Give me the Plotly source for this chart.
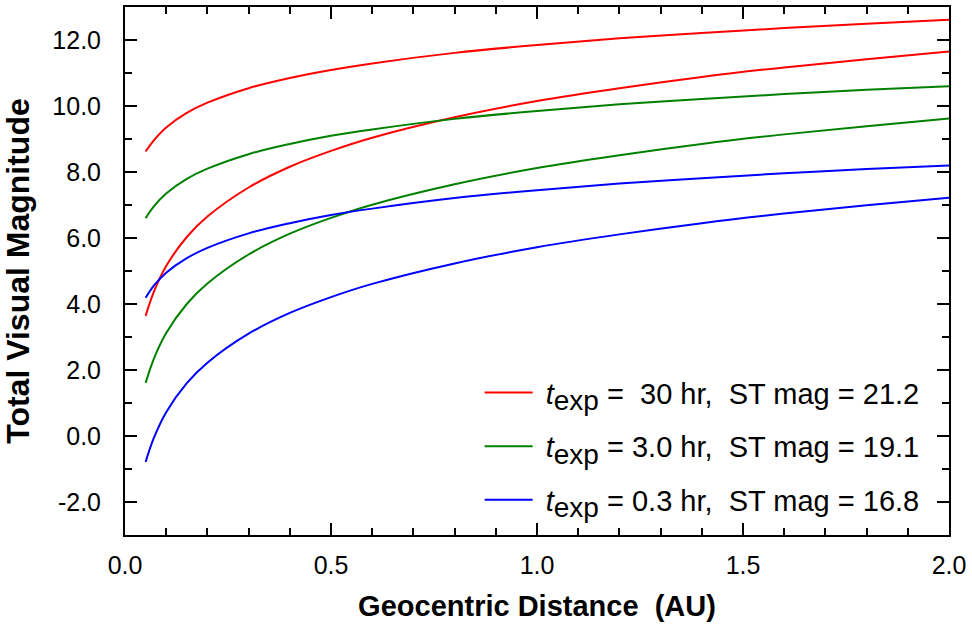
import plotly.graph_objects as go

# Geocentric distance (AU) sample points
distance = [0.05, 0.07, 0.10, 0.15, 0.20, 0.30, 0.40, 0.50, 0.60, 0.80,
            1.00, 1.20, 1.40, 1.60, 1.80, 2.00]

# Red: t_exp = 30 hr, ST mag = 21.2
red_upper = [8.62, 8.96, 9.35, 9.79, 10.10, 10.54, 10.85, 11.09, 11.29, 11.61,
             11.85, 12.05, 12.21, 12.36, 12.49, 12.61]
red_lower = [3.64, 4.37, 5.15, 6.03, 6.65, 7.53, 8.16, 8.64, 9.04, 9.66,
             10.15, 10.54, 10.88, 11.17, 11.42, 11.65]

# Green: t_exp = 3.0 hr, ST mag = 19.1
green_upper = [6.60, 6.96, 7.35, 7.79, 8.10, 8.54, 8.85, 9.10, 9.29, 9.61,
               9.85, 10.05, 10.21, 10.36, 10.49, 10.60]
green_lower = [1.61, 2.34, 3.12, 4.00, 4.62, 5.50, 6.13, 6.61, 7.01, 7.63,
               8.12, 8.51, 8.85, 9.14, 9.39, 9.62]

# Blue: t_exp = 0.3 hr, ST mag = 16.8
blue_upper = [4.19, 4.56, 4.95, 5.39, 5.70, 6.14, 6.45, 6.70, 6.89, 7.21,
              7.45, 7.65, 7.81, 7.96, 8.09, 8.20]
blue_lower = [-0.79, -0.06, 0.72, 1.60, 2.22, 3.10, 3.73, 4.21, 4.61, 5.23,
              5.72, 6.11, 6.45, 6.74, 6.99, 7.22]

x_tick_vals = [0.0, 0.5, 1.0, 1.5, 2.0]
x_tick_text = ["0.0", "0.5", "1.0", "1.5", "2.0"]
y_tick_vals = [-2, 0, 2, 4, 6, 8, 10, 12]
y_tick_text = ["-2.0", "0.0", "2.0", "4.0", "6.0", "8.0", "10.0", "12.0"]

NB = "\u00a0"
SUB = NB + "<i>t</i><sub><span style='font-size:28px'>exp</span></sub>"
labels = [
    SUB + NB + "=" + NB + NB + "30 hr," + NB + NB + "ST mag = 21.2",
    SUB + NB + "= 3.0 hr," + NB + NB + "ST mag = 19.1",
    SUB + NB + "= 0.3 hr," + NB + NB + "ST mag = 16.8",
]
colors = ["#ff0000", "#008000", "#0000ff"]
series = [(red_upper, red_lower), (green_upper, green_lower), (blue_upper, blue_lower)]

fig = go.Figure()
for i, ((up, lo), col, lab) in enumerate(zip(series, colors, labels)):
    for j, ys in enumerate((up, lo)):
        fig.add_trace(go.Scatter(
            x=distance, y=ys, mode="lines",
            line=dict(color=col, width=2, shape="spline", smoothing=1.0),
            name=lab, legendgroup=f"g{i}", showlegend=(j == 0),
            hoverinfo="skip",
        ))

font_family = "Liberation Sans, Arial, sans-serif"
fig.update_layout(
    width=972, height=629,
    margin=dict(l=125, r=23, t=7, b=94, autoexpand=False),
    paper_bgcolor="white", plot_bgcolor="white",
    font=dict(family=font_family, color="black"),
    showlegend=True,
    legend=dict(
        x=0.4304, y=0.318, xanchor="left", yanchor="top",
        bgcolor="rgba(0,0,0,0)", borderwidth=0,
        font=dict(size=29, family=font_family, color="black"),
        tracegroupgap=13, itemwidth=48,
    ),
)
fig.update_xaxes(
    range=[0, 2.0], tickmode="array",
    tickvals=x_tick_vals, ticktext=x_tick_text,
    ticks="inside", ticklen=12, tickwidth=2, tickcolor="black",
    minor=dict(dtick=0.1, ticks="inside", ticklen=7, tickwidth=2, tickcolor="black"),
    showline=True, linecolor="black", linewidth=2, mirror="ticks",
    showgrid=False, zeroline=False, automargin=False,
    tickfont=dict(size=25, color="black"), ticklabelstandoff=7,
    title=dict(text="<b>Geocentric Distance" + NB + NB + "(AU)</b>",
               font=dict(size=29, color="black"), standoff=18),
)
fig.update_yaxes(
    range=[-3, 13], tickmode="array",
    tickvals=y_tick_vals, ticktext=y_tick_text,
    ticks="inside", ticklen=12, tickwidth=2, tickcolor="black",
    minor=dict(dtick=1, ticks="inside", ticklen=7, tickwidth=2, tickcolor="black"),
    showline=True, linecolor="black", linewidth=2, mirror="ticks",
    showgrid=False, zeroline=False, automargin=False,
    tickfont=dict(size=25, color="black"), ticklabelstandoff=17,
    title=dict(text="<b>Total Visual Magnitude</b>",
               font=dict(size=32, color="black"), standoff=13),
)

fig.write_html(
    "out.html",
    config={"displayModeBar": False},
    post_script="document.body.style.margin='0';document.body.style.overflow='hidden';",
)
